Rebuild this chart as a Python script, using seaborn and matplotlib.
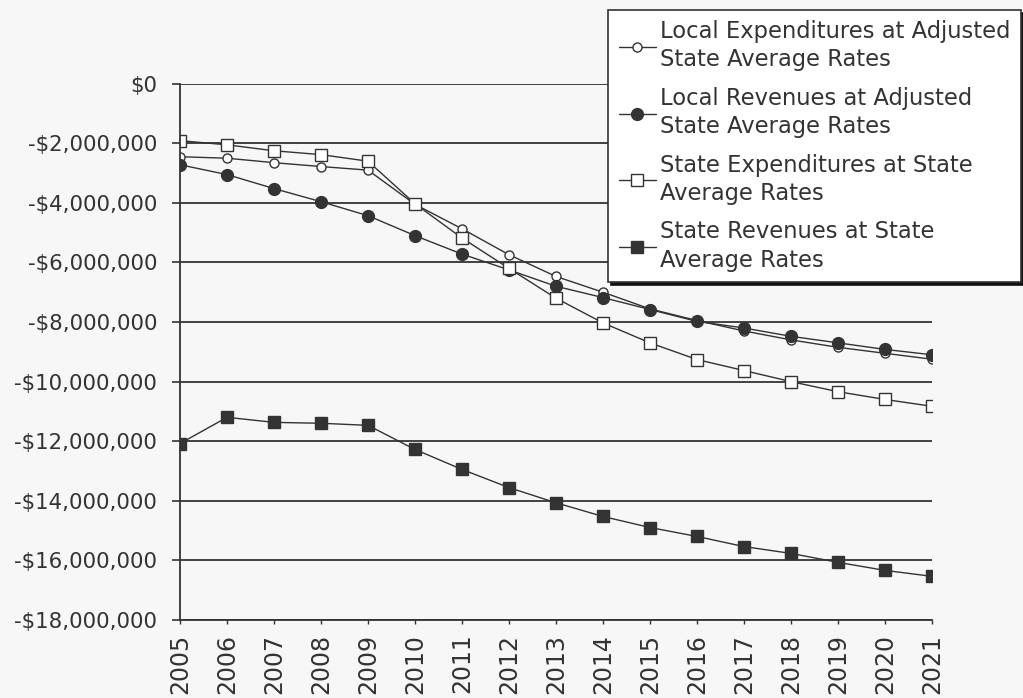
import matplotlib
matplotlib.use("Agg")
import matplotlib.pyplot as plt
import seaborn as sns
import pandas as pd
from matplotlib.ticker import FuncFormatter

years = list(range(2005, 2022))
local_exp = [-2450000, -2500000, -2650000, -2780000, -2900000, -4050000, -4870000,
             -5740000, -6470000, -7000000, -7560000, -7950000, -8300000, -8600000,
             -8850000, -9050000, -9250000]
local_rev = [-2720000, -3050000, -3520000, -3960000, -4430000, -5100000, -5720000,
             -6250000, -6800000, -7180000, -7580000, -7980000, -8200000, -8480000,
             -8700000, -8920000, -9100000]
state_exp = [-1910000, -2050000, -2250000, -2380000, -2600000, -4030000, -5180000,
             -6200000, -7200000, -8030000, -8700000, -9260000, -9630000, -10000000,
             -10340000, -10600000, -10830000]
state_rev = [-12080000, -11200000, -11370000, -11400000, -11470000, -12280000, -12950000,
             -13560000, -14070000, -14530000, -14900000, -15200000, -15540000, -15770000,
             -16070000, -16340000, -16540000]
labels = ["Local Expenditures at Adjusted\nState Average Rates",
          "Local Revenues at Adjusted\nState Average Rates",
          "State Expenditures at State\nAverage Rates",
          "State Revenues at State\nAverage Rates"]
y_ticks = list(range(0, -18000001, -2000000))

sns.set_theme(style="white")
plt.rcParams['font.family'] = ['DejaVu Sans']

bg = "#f7f7f7"
ink = "#333333"
fig = plt.figure(figsize=(10.23, 6.98), dpi=100, facecolor=bg)
ax = fig.add_axes([0.176, 0.112, 0.735, 0.768])
ax.set_facecolor(bg)

styles = [
    dict(marker="o", markersize=6.5, markerfacecolor="white"),
    dict(marker="o", markersize=8.5, markerfacecolor=ink),
    dict(marker="s", markersize=8.5, markerfacecolor="white"),
    dict(marker="s", markersize=8.0, markerfacecolor=ink),
]
series = [local_exp, local_rev, state_exp, state_rev]
for vals, lab, st in zip(series, labels, styles):
    sns.lineplot(x=years, y=vals, ax=ax, color=ink, linewidth=1.0,
                 markeredgecolor=ink, markeredgewidth=1.0, label=lab, **st)

ax.set_xlim(2005, 2021)
ax.set_ylim(-18000000, 0)
ax.set_xticks(years)
ax.set_xticklabels([str(y) for y in years], rotation=90, fontsize=17, color=ink)
ax.set_yticks(y_ticks)
ax.yaxis.set_major_formatter(FuncFormatter(
    lambda v, p: "$0" if v == 0 else ("-$" if v < 0 else "$") + f"{abs(int(v)):,}"))
ax.tick_params(axis="y", labelsize=15.3, labelcolor=ink, length=6, width=1.2,
               color=ink, direction="out", pad=10.5, left=True)
ax.tick_params(axis="x", length=3, width=1.0, color=ink, direction="out", pad=7, bottom=True)
for v in y_ticks:
    ax.axhline(v, color=ink, linewidth=1.3, zorder=0.5)
for s in ["top", "right"]:
    ax.spines[s].set_visible(False)
for s in ["left", "bottom"]:
    ax.spines[s].set_color(ink)
    ax.spines[s].set_linewidth(1.3)
ax.set_xlabel("")
ax.set_ylabel("")

leg = ax.legend(loc="upper right", bbox_to_anchor=(0.998, 0.986),
                bbox_transform=fig.transFigure, borderaxespad=0, fontsize=16.3,
                frameon=True, fancybox=False, handlelength=1.65, handletextpad=0.2,
                labelspacing=0.68, borderpad=0.45,
                shadow={"color": "#111111", "alpha": 1.0, "ox": 2, "oy": -2})
leg.get_frame().set_edgecolor(ink)
leg.get_frame().set_linewidth(1.2)
leg.get_frame().set_facecolor("white")
for t in leg.get_texts():
    t.set_color(ink)
    t.set_linespacing(1.3)

fig.savefig("out.png", dpi=100, facecolor=bg)
